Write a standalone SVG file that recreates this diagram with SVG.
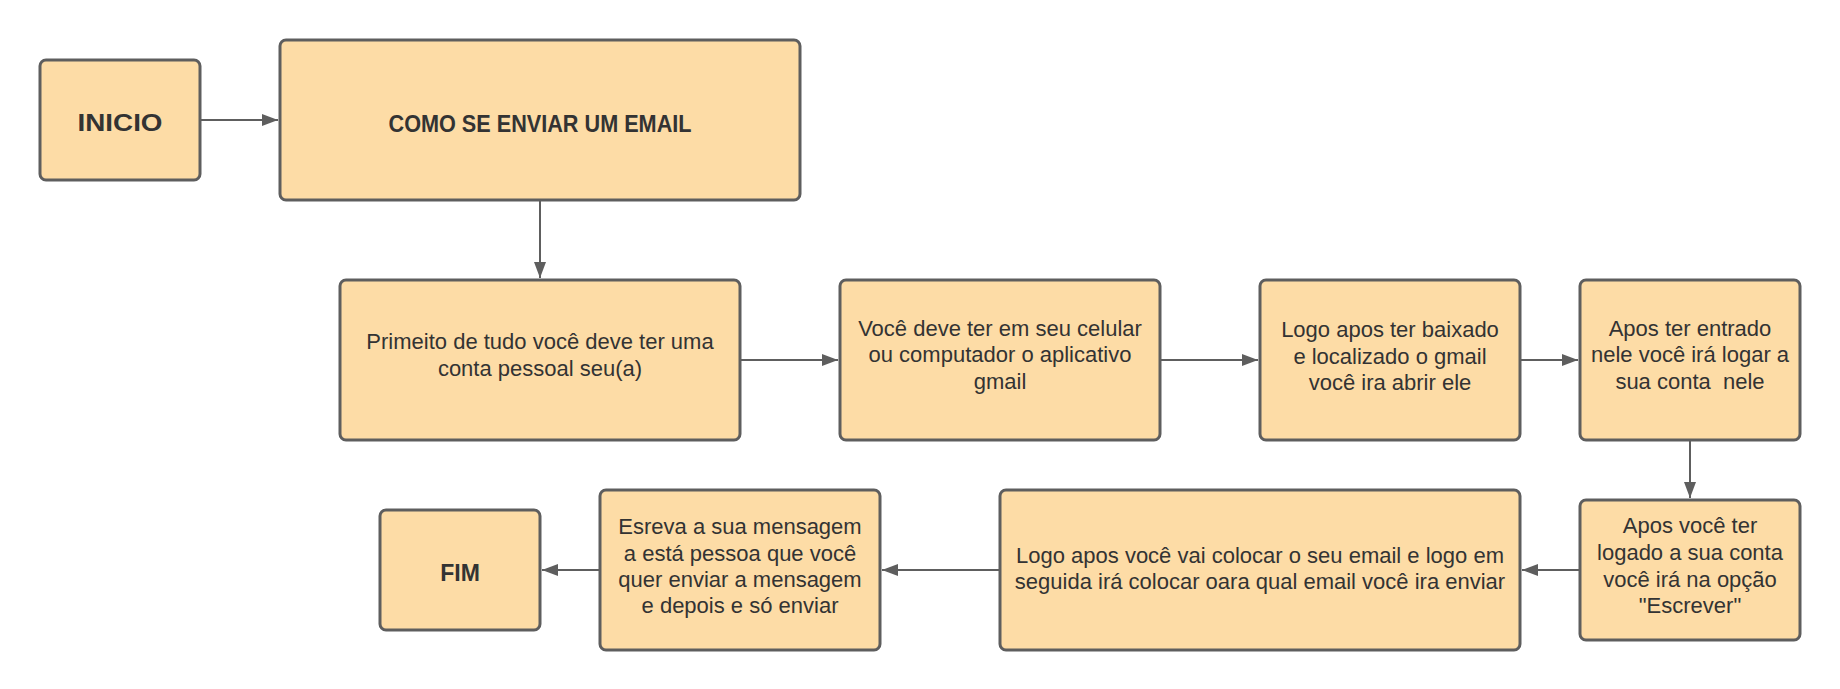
<svg xmlns="http://www.w3.org/2000/svg" width="1840" height="689" viewBox="0 0 1840 689">
<style>
.box{fill:#FDDCA6;stroke:#5E5E5E;stroke-width:3}
.t{font-family:"Liberation Sans",Arial,sans-serif;font-size:22px;fill:#333333;text-anchor:middle}
.h{font-family:"Liberation Sans",Arial,sans-serif;font-weight:bold;font-size:23px;fill:#333333;text-anchor:middle}
.c{fill:none;stroke:#5E5E5E;stroke-width:2}
</style>
<defs>
<marker id="arr" markerUnits="userSpaceOnUse" markerWidth="18" markerHeight="14" refX="16" refY="6" orient="auto">
<path d="M0,0 L16,6 L0,12 Z" fill="#5E5E5E"/>
</marker>
</defs>
<rect width="1840" height="689" fill="#FFFFFF"/>
<g id="connectors">
<line class="c" x1="201" y1="120" x2="278" y2="120" marker-end="url(#arr)"/>
<line class="c" x1="540" y1="201" x2="540" y2="278" marker-end="url(#arr)"/>
<line class="c" x1="741" y1="360" x2="838" y2="360" marker-end="url(#arr)"/>
<line class="c" x1="1161" y1="360" x2="1258" y2="360" marker-end="url(#arr)"/>
<line class="c" x1="1521" y1="360" x2="1578" y2="360" marker-end="url(#arr)"/>
<line class="c" x1="1690" y1="441" x2="1690" y2="498" marker-end="url(#arr)"/>
<line class="c" x1="1579" y1="570" x2="1522" y2="570" marker-end="url(#arr)"/>
<line class="c" x1="999" y1="570" x2="882" y2="570" marker-end="url(#arr)"/>
<line class="c" x1="599" y1="570" x2="542" y2="570" marker-end="url(#arr)"/>
</g>
<g id="inicio">
<rect class="box" x="40" y="60" width="160" height="120" rx="6"/>
<text class="h" x="120" y="131" textLength="85" lengthAdjust="spacingAndGlyphs">INICIO</text>
</g>
<g id="titulo">
<rect class="box" x="280" y="40" width="520" height="160" rx="6"/>
<text class="h" x="540" y="132" textLength="303" lengthAdjust="spacingAndGlyphs">COMO SE ENVIAR UM EMAIL</text>
</g>
<g id="passo1">
<rect class="box" x="340" y="280" width="400" height="160" rx="6"/>
<text class="t" x="540" y="349">Primeito de tudo você deve ter uma</text>
<text class="t" x="540" y="376">conta pessoal seu(a)</text>
</g>
<g id="passo2">
<rect class="box" x="840" y="280" width="320" height="160" rx="6"/>
<text class="t" x="1000" y="336">Você deve ter em seu celular</text>
<text class="t" x="1000" y="362">ou computador o aplicativo</text>
<text class="t" x="1000" y="389">gmail</text>
</g>
<g id="passo3">
<rect class="box" x="1260" y="280" width="260" height="160" rx="6"/>
<text class="t" x="1390" y="337">Logo apos ter baixado</text>
<text class="t" x="1390" y="364">e localizado o gmail</text>
<text class="t" x="1390" y="390">você ira abrir ele</text>
</g>
<g id="passo4">
<rect class="box" x="1580" y="280" width="220" height="160" rx="6"/>
<text class="t" x="1690" y="336">Apos ter entrado</text>
<text class="t" x="1690" y="362">nele você irá logar a</text>
<text class="t" x="1690" y="389" xml:space="preserve" style="white-space:pre">sua conta  nele</text>
</g>
<g id="passo5">
<rect class="box" x="1580" y="500" width="220" height="140" rx="6"/>
<text class="t" x="1690" y="533">Apos você ter</text>
<text class="t" x="1690" y="560">logado a sua conta</text>
<text class="t" x="1690" y="587">você irá na opção</text>
<text class="t" x="1690" y="613">"Escrever"</text>
</g>
<g id="passo6">
<rect class="box" x="1000" y="490" width="520" height="160" rx="6"/>
<text class="t" x="1260" y="563">Logo apos você vai colocar o seu email e logo em</text>
<text class="t" x="1260" y="589">seguida irá colocar oara qual email você ira enviar</text>
</g>
<g id="passo7">
<rect class="box" x="600" y="490" width="280" height="160" rx="6"/>
<text class="t" x="740" y="534">Esreva a sua mensagem</text>
<text class="t" x="740" y="561">a está pessoa que você</text>
<text class="t" x="740" y="587">quer enviar a mensagem</text>
<text class="t" x="740" y="613">e depois e só enviar</text>
</g>
<g id="fim">
<rect class="box" x="380" y="510" width="160" height="120" rx="6"/>
<text class="h" x="460" y="581">FIM</text>
</g>
</svg>
